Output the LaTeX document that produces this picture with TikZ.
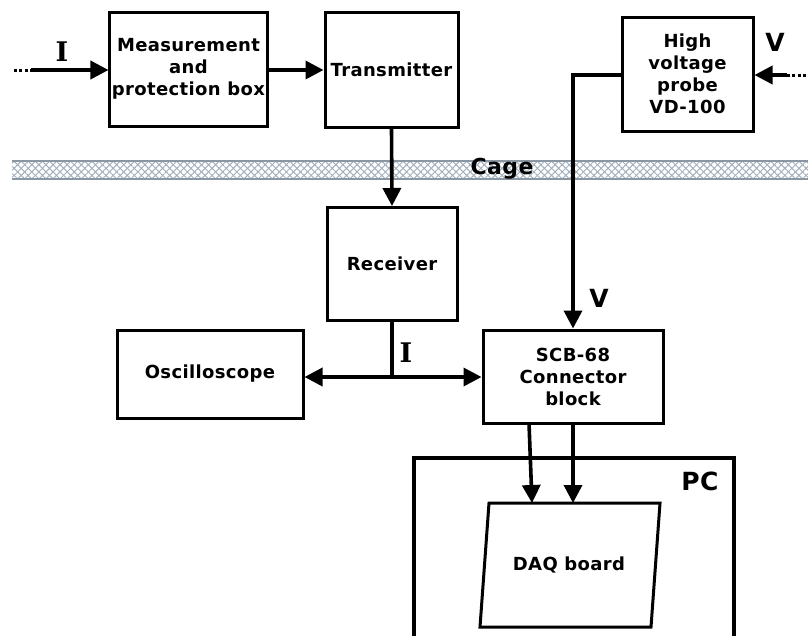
\documentclass[tikz,border=0pt]{standalone}
\usepackage{fontspec}
\setmainfont{DejaVu Sans}[LetterSpace=2]
\newfontfamily\serifb{DejaVu Serif}
\usetikzlibrary{arrows.meta,patterns.meta}
\definecolor{cagecol}{HTML}{A3B0BD}
\begin{document}
\begin{tikzpicture}[x=1pt,y=-1pt,
  box/.style={draw,line width=3pt,rectangle,align=center,font=\bfseries\fontsize{18}{22}\selectfont,inner sep=2pt},
  conn/.style={line width=3.6pt},
  arr/.style={line width=3.6pt,-{Triangle[length=18pt,width=18pt]}},
  dotsl/.style={line width=3pt,dash pattern=on 2.8pt off 2.6pt},
  lbl/.style={font=\bfseries\fontsize{25}{28}\selectfont,inner sep=0pt},
  ilbl/.style={font=\serifb\bfseries\fontsize{27}{28}\selectfont,inner sep=0pt}]
\useasboundingbox (0,0) rectangle (808,635);
% cage band
\fill[pattern={Lines[angle=45,distance=5pt,line width=1pt]},pattern color=cagecol] (12,161) rectangle (808,179);
\fill[pattern={Lines[angle=-45,distance=5pt,line width=1pt]},pattern color=cagecol] (12,161) rectangle (808,179);
\draw[cagecol!85!black,line width=1.4pt] (12,161) -- (808,161) (12,179) -- (808,179);
\node[font=\bfseries\fontsize{22}{24}\selectfont,inner sep=1pt] (cage) at (502,169) {Cage};
% boxes
\node[box,minimum width=157pt,minimum height=114pt] (meas) at (188.5,69) {Measurement\\and\\protection box};
\node[box,minimum width=133pt,minimum height=115pt] (trans) at (391.5,69.5) {Transmitter};
\node[box,minimum width=131pt,minimum height=114pt] (hv) at (687.5,74) {High\\voltage\\probe\\VD-100};
\node[box,minimum width=130pt,minimum height=113pt] (recv) at (392,264) {Receiver};
\node[box,minimum width=186pt,minimum height=88pt] (osc) at (210,374) {Oscilloscope};
\node[box,minimum width=180pt,minimum height=93pt] (scb) at (573,376.5) {SCB-68\\Connector\\block};
% PC
\draw[line width=4pt] (414,645) |- (734,458) -- (734,645);
\node[lbl] (pc) at (700,481) {PC};
% DAQ board
\coordinate (dtl) at (489,503);
\coordinate (dtr) at (660,503);
\coordinate (dbr) at (651,627);
\coordinate (dbl) at (480,627);
\draw[line width=3pt,line join=miter] (dtl) -- (dtr) -- (dbr) -- (dbl) -- cycle;
\node[font=\bfseries\fontsize{18}{22}\selectfont] (daq) at (569,565) {DAQ board};
% input I
\coordinate (dotsa) at (14,70);
\coordinate (iin) at (31,70);
\draw[dotsl] (dotsa) -- (iin);
\draw[arr] (iin) -- (meas.west |- iin);
\node[ilbl] (ilab1) at (62,52) {I};
\draw[arr] (meas.east |- 0,70) -- (trans.west |- 0,70);
\draw[arr] (trans.south) -- (recv.north);
% V input
\coordinate (dotsb) at (806,75);
\coordinate (vin) at (787,75);
\draw[dotsl] (dotsb) -- (vin);
\draw[arr] (vin) -- (hv.east |- vin);
\node[lbl] (vlab1) at (775,42) {V};
\coordinate (bend) at (573,75);
\draw[arr,line join=miter] (hv.west |- bend) -- (bend) -- (scb.north -| bend);
\node[lbl] (vlab2) at (599,298) {V};
% I split
\coordinate (split) at (392,377);
\draw[conn] (recv.south) -- (split);
\draw[arr] (split) -- (osc.east |- split);
\draw[arr] (split) -- (scb.west |- split);
\node[ilbl] (ilab2) at (406,353) {I};
% SCB to DAQ
\coordinate (s1) at (529,423);
\coordinate (d1) at (532,503);
\coordinate (s2) at (573,423);
\coordinate (d2) at (573,503);
\draw[arr] (s1) -- (d1);
\draw[arr] (s2) -- (d2);
\end{tikzpicture}
\end{document}
